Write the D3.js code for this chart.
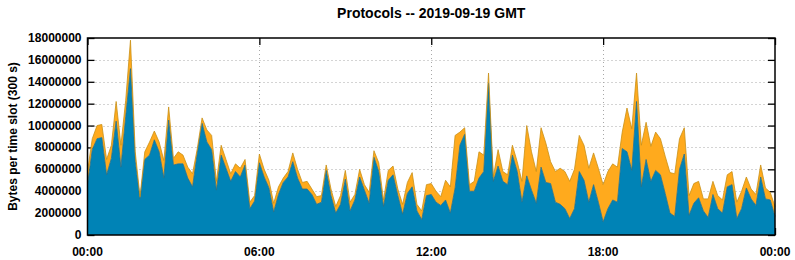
<!DOCTYPE html>
<html>
<head>
<meta charset="utf-8">
<script src="https://cdn.jsdelivr.net/npm/d3@7"></script>
<style>
  body { margin: 0; background: #fff; }
  text { font-family: "Liberation Sans", Arial, sans-serif; font-weight: bold; }
</style>
</head>
<body>
<svg id="chart"></svg>
<script>
// 10-minute samples, values in millions of bytes per 300 s slot
const tcp = [
    4.6, 7.8, 8.8, 8.9, 5.5, 7.0, 10.4, 6.2, 10.8, 15.2, 6.7, 3.3,
    6.9, 7.3, 8.7, 7.6, 5.2, 10.5, 6.4, 6.5, 6.5, 5.2, 4.4, 7.5,
    10.2, 8.5, 7.8, 4.1, 7.3, 6.1, 4.9, 5.8, 5.3, 6.4, 2.4, 3.1,
    6.6, 5.3, 4.3, 2.1, 3.7, 4.8, 5.3, 6.7, 5.2, 4.2, 4.2, 3.7,
    2.8, 3.0, 5.9, 3.6, 2.0, 2.8, 5.1, 2.2, 3.2, 5.3, 4.1, 2.9,
    7.1, 5.8, 2.6, 5.0, 5.5, 3.6, 1.9, 3.8, 4.4, 2.2, 1.4, 3.6,
    3.7, 3.0, 2.7, 3.2, 2.0, 4.3, 8.2, 9.2, 4.0, 4.0, 5.2, 5.8,
    13.9, 4.9, 6.3, 4.9, 4.6, 7.3, 5.8, 3.0, 5.4, 4.1, 2.9, 6.2,
    4.8, 4.7, 3.0, 2.8, 2.4, 1.5, 2.4, 5.8, 5.0, 3.0, 4.6, 3.0,
    1.2, 2.4, 3.2, 3.0, 7.9, 7.6, 5.9, 12.2, 4.4, 6.9, 4.9, 5.9,
    5.5, 3.8, 2.0, 1.7, 6.0, 7.4, 1.8, 2.9, 3.4, 2.2, 1.6, 3.7,
    2.4, 2.0, 4.4, 4.6, 1.5, 2.4, 4.3, 3.3, 2.7, 5.3, 3.3, 3.2,
    1.7
]

const udp = [
    1.2, 1.0, 1.2, 1.2, 1.4, 1.2, 1.8, 2.0, 1.5, 2.6, 0.9, 0.2,
    0.7, 1.2, 0.8, 0.9, 1.6, 1.2, 0.6, 1.1, 0.8, 1.0, 1.2, 0.4,
    0.5, 1.1, 1.3, 0.8, 0.9, 0.8, 0.7, 0.7, 0.8, 0.5, 0.6, 0.5,
    0.8, 0.7, 0.7, 0.8, 0.7, 0.4, 0.5, 0.8, 0.8, 0.6, 0.7, 0.5,
    0.7, 0.6, 0.5, 0.6, 0.6, 0.8, 0.8, 0.8, 0.5, 0.7, 0.5, 1.0,
    0.6, 0.8, 0.6, 0.9, 0.8, 0.6, 0.9, 1.0, 1.3, 0.6, 0.8, 1.0,
    1.0, 1.0, 0.8, 1.8, 2.4, 4.8, 1.2, 0.6, 0.6, 0.9, 2.4, 1.5,
    0.9, 0.4, 1.5, 0.9, 0.9, 0.9, 0.9, 1.9, 4.6, 3.5, 2.9, 3.6,
    3.6, 2.0, 2.8, 3.3, 3.4, 3.4, 3.6, 3.3, 3.2, 3.1, 2.9, 3.1,
    3.4, 3.4, 3.3, 3.2, 1.5, 4.0, 3.8, 2.6, 3.8, 3.4, 3.2, 3.5,
    3.3, 3.4, 3.7, 3.9, 2.8, 2.4, 1.8, 1.8, 1.5, 1.1, 1.7, 1.2,
    1.2, 1.2, 1.1, 1.2, 1.5, 1.6, 1.0, 0.9, 1.0, 1.1, 1.0, 0.7,
    0.9
]

const yTicks = [0, 2e6, 4e6, 6e6, 8e6, 10e6, 12e6, 14e6, 16e6, 18e6]
const xTickHours = [0, 6, 12, 18, 24]
const day = Date.UTC(2019, 8, 19)

const width = 795
const height = 260
const margin = { left: 87.5, right: 20, top: 38, bottom: 25 }

const svg = d3.select("#chart")
    .attr("width", width)
    .attr("height", height)

const rows = tcp.map((v, i) => ({
    time: new Date(day + i * 10 * 60000),
    tcp: v * 1e6,
    udp: udp[i] * 1e6
}))

const xScale = d3.scaleUtc()
    .domain([new Date(day), new Date(day + 24 * 3600000)])
    .range([margin.left, width - margin.right])

const yScale = d3.scaleLinear()
    .domain([0, 18e6])
    .range([height - margin.bottom, margin.top])

const plotL = margin.left, plotR = width - margin.right
const plotT = margin.top, plotB = height - margin.bottom

// grid
const grid = svg.append("g")
    .attr("stroke", "#a8a8a8")
    .attr("stroke-width", 1)
    .attr("stroke-dasharray", "1,3")
grid.selectAll(".gy").data(yTicks.slice(1, -1)).enter().append("line")
    .attr("x1", plotL).attr("x2", plotR)
    .attr("y1", d => Math.round(yScale(d)) + 0.5)
    .attr("y2", d => Math.round(yScale(d)) + 0.5)
grid.selectAll(".gx").data(xTickHours.slice(1, -1)).enter().append("line")
    .attr("y1", plotT).attr("y2", plotB)
    .attr("x1", d => Math.round(xScale(new Date(day + d * 3600000))) + 0.5)
    .attr("x2", d => Math.round(xScale(new Date(day + d * 3600000))) + 0.5)

// tics (inward, on all four sides)
const axisLeft = d3.axisLeft(yScale).tickValues(yTicks).tickSize(-7).tickFormat("")
const axisRight = d3.axisRight(yScale).tickValues(yTicks).tickSize(-7).tickFormat("")
const xTickDates = xTickHours.map(h => new Date(day + h * 3600000))
const axisBottom = d3.axisBottom(xScale).tickValues(xTickDates).tickSize(-7).tickFormat("")
const axisTop = d3.axisTop(xScale).tickValues(xTickDates).tickSize(-7).tickFormat("")

svg.append("g").attr("transform", `translate(${plotL},0)`).call(axisLeft)
svg.append("g").attr("transform", `translate(${plotR},0)`).call(axisRight)
svg.append("g").attr("transform", `translate(0,${plotB})`).call(axisBottom)
svg.append("g").attr("transform", `translate(0,${plotT})`).call(axisTop)
svg.selectAll(".domain").remove()
svg.selectAll(".tick line").attr("stroke", "#000").attr("stroke-width", 1.3)

// stacked areas
const stack = d3.stack().keys(["tcp", "udp"])
const layers = stack(rows)
const fills = { tcp: "#0083b6", udp: "#ffaa1d" }
const edges = { tcp: "#2a6f84", udp: "#c99116" }

const area = d3.area()
    .x(d => xScale(d.data.time))
    .y0(d => yScale(d[0]))
    .y1(d => yScale(d[1]))

const line = d3.line()
    .x(d => xScale(d.data.time))
    .y(d => yScale(d[1]))

const body = svg.append("g")
layers.slice().reverse().forEach(layer => {
    body.append("path")
        .datum(layer)
        .attr("d", area)
        .attr("fill", fills[layer.key])
})
layers.forEach(layer => {
    body.append("path")
        .datum(layer)
        .attr("d", line)
        .attr("fill", "none")
        .attr("stroke", edges[layer.key])
        .attr("stroke-width", 0.8)
})

// border
svg.append("rect")
    .attr("x", plotL).attr("y", plotT)
    .attr("width", plotR - plotL).attr("height", plotB - plotT)
    .attr("fill", "none")
    .attr("stroke", "#000")
    .attr("stroke-width", 1.5)

// tick labels
svg.append("g").selectAll("text").data(yTicks).enter().append("text")
    .attr("x", plotL - 6)
    .attr("y", d => yScale(d) + 4)
    .attr("text-anchor", "end")
    .attr("font-size", 12)
    .text(d => d3.format("d")(d))

const timeFmt = d3.utcFormat("%H:%M")
svg.append("g").selectAll("text").data(xTickDates).enter().append("text")
    .attr("x", d => xScale(d))
    .attr("y", plotB + 21)
    .attr("text-anchor", "middle")
    .attr("font-size", 12)
    .text(d => timeFmt(d))

// title and axis label
svg.append("text")
    .attr("x", (plotL + plotR) / 2)
    .attr("y", 18)
    .attr("text-anchor", "middle")
    .attr("font-size", 14)
    .text("Protocols -- 2019-09-19 GMT")

svg.append("text")
    .attr("transform", `translate(17,${(plotT + plotB) / 2}) rotate(-90)`)
    .attr("text-anchor", "middle")
    .attr("font-size", 12)
    .text("Bytes per time slot (300 s)")
</script>
</body>
</html>
